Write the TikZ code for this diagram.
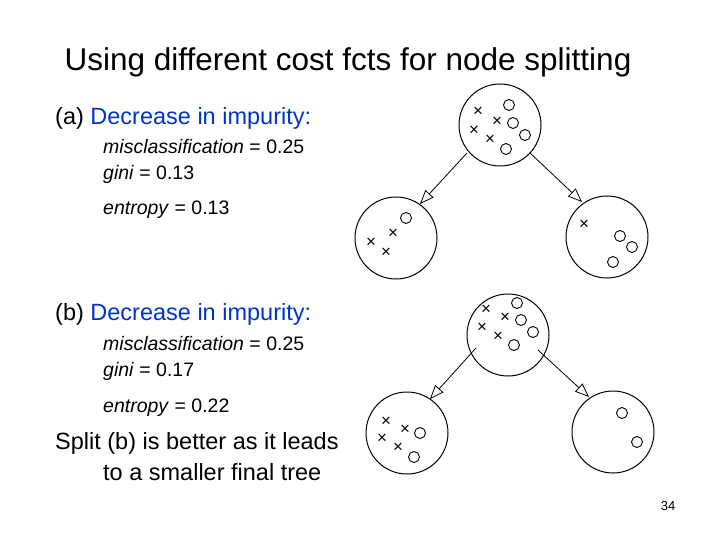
\documentclass[tikz,border=0pt]{standalone}
\usepackage{fontspec}
\setmainfont{Liberation Sans}
\usetikzlibrary{arrows.meta}
\definecolor{hl}{RGB}{0,51,204}
\begin{document}
\begin{tikzpicture}[x=1pt,y=-1pt,
  bub/.style={draw,circle,line width=1pt,minimum size=82pt,inner sep=0pt},
  oo/.style={draw,circle,line width=0.9pt,minimum size=11pt,inner sep=0pt},
  xx/.style={inner sep=0pt,font=\fontsize{17}{17}\selectfont},
  arr/.style={-{Triangle[open,length=14pt,width=11pt]},line width=0.8pt},
  txt/.style={anchor=west,inner sep=0pt,font=\fontsize{23.5}{25}\selectfont},
  sub/.style={anchor=west,inner sep=0pt,font=\fontsize{19.5}{21}\selectfont}]
\useasboundingbox (0,0) rectangle (720,540);
\node[inner sep=0pt,font=\fontsize{31.5}{34}\selectfont] (title) at (348,62) {Using different cost fcts for node splitting};
\node[txt] (ha) at (55,118) {(a) \textcolor{hl}{Decrease in impurity:}};
\node[sub] (a1) at (103,147) {\textit{misclassification} = 0.25};
\node[sub] (a2) at (103,174) {\textit{gini} = 0.13};
\node[sub] (a3) at (103,210) {\textit{entropy} = 0.13};
\node[txt] (hb) at (55,314) {(b) \textcolor{hl}{Decrease in impurity:}};
\node[sub] (b1) at (103,344) {\textit{misclassification} = 0.25};
\node[sub] (b2) at (103,371) {\textit{gini} = 0.17};
\node[sub] (b3) at (103,408) {\textit{entropy} = 0.22};
\node[txt] (c1) at (55,443) {Split (b) is better as it leads};
\node[txt] (c2) at (103,472) {to a smaller final tree};
\node[inner sep=0pt,font=\fontsize{13}{14}\selectfont] (pg) at (668,506) {34};
% tree a
\node[bub] (A) at (500,125) {};
\node[bub] (AL) at (396,238) {};
\node[bub] (AR) at (607,237) {};
\coordinate (As1) at (467,153); \coordinate (Ae1) at (420,204);
\coordinate (As2) at (530,153); \coordinate (Ae2) at (582,202);
\draw[arr] (As1) -- (Ae1);
\draw[arr] (As2) -- (Ae2);
\foreach \p in {(478,112),(497,122),(474,131),(490,140),(393,234),(371,243),(386,253),(584,225)} \node[xx] at \p {×};
\foreach \p in {(509,105),(513,123),(525,135),(506,149),(406,218),(620,236),(632,247),(613,262)} \node[oo] at \p {};
% tree b
\node[bub] (B) at (508,335) {};
\node[bub] (BL) at (407,433) {};
\node[bub] (BR) at (613,432) {};
\coordinate (Bs1) at (476,348); \coordinate (Be1) at (430,399);
\coordinate (Bs2) at (538,350); \coordinate (Be2) at (589,397);
\draw[arr] (Bs1) -- (Be1);
\draw[arr] (Bs2) -- (Be2);
\foreach \p in {(486,310),(505,318),(482,328),(498,337),(386,422),(405,430),(382,439),(398,448)} \node[xx] at \p {×};
\foreach \p in {(517,303),(521,320),(533,332),(514,345),(420,433),(414,457),(622,413),(637,442)} \node[oo] at \p {};
\end{tikzpicture}
\end{document}
